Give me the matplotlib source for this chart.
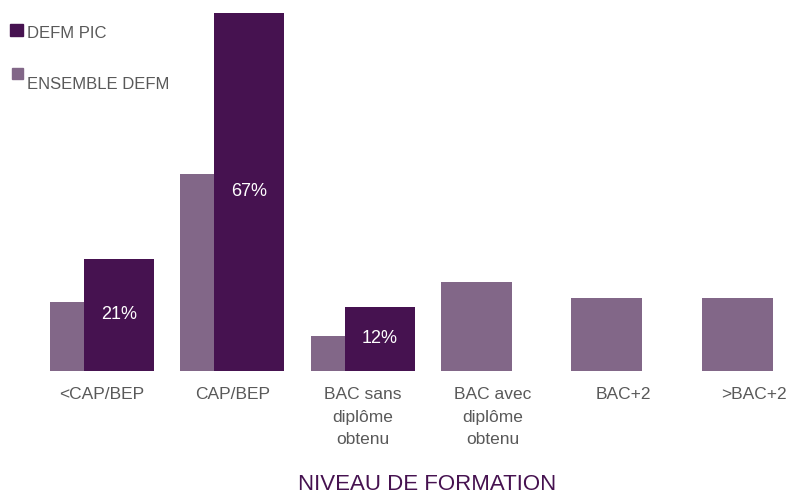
import matplotlib
matplotlib.use("Agg")
import matplotlib.pyplot as plt
from matplotlib.patches import Rectangle
import numpy as np

plt.rcParams['font.family'] = ['Liberation Sans', 'DejaVu Sans']

categories = ["<CAP/BEP", "CAP/BEP", "BAC sans\ndiplôme\nobtenu",
              "BAC avec\ndiplôme\nobtenu", "BAC+2", ">BAC+2"]
defm_pic = [21, 67, 12, 0, 0, 0]
ensemble_defm = [12.9, 36.8, 6.5, 16.6, 13.6, 13.6]
series_names = ["DEFM PIC", "ENSEMBLE DEFM"]

DARK = "#461250"
LIGHT = "#826788"
GRAY = "#595959"

W, H = 789, 495
fig = plt.figure(figsize=(W / 100, H / 100), dpi=100)

base_px = 370.7   # baseline from top
ax = fig.add_axes([0, (H - base_px) / H, 1, base_px / H])
spacing = 130.3
x0 = 102.0
ax.set_xlim(-x0 / spacing, (W - x0) / spacing)
ax.set_ylim(0, base_px / 5.34)

x = np.arange(len(categories))
ax.bar(x - 16.5 / spacing, ensemble_defm, width=71 / spacing, color=LIGHT, zorder=1)
bars = ax.bar(x + 17 / spacing, defm_pic, width=70 / spacing, color=DARK, zorder=2)
for xi, v in zip(x, defm_pic):
    if v > 0:
        ax.text(xi + 17 / spacing, v / 2, f"{v}%", color="white", ha="center",
                va="center", fontsize=13, zorder=3)

ax.set_xticks(x)
ax.set_xticklabels(categories, fontsize=12.5, color=GRAY, linespacing=1.6)
ax.tick_params(axis='x', length=0, pad=12)
ax.set_yticks([])
for s in ax.spines.values():
    s.set_visible(False)

# legend (manual)
def px_rect(x1, y1, x2, y2, color):
    fig.patches.append(Rectangle((x1 / W, 1 - y2 / H), (x2 - x1) / W, (y2 - y1) / H,
                                 transform=fig.transFigure, color=color, figure=fig))

px_rect(10, 24, 23, 36, DARK)
fig.text(27 / W, 1 - 38 / H, series_names[0], color=GRAY, fontsize=12, va="baseline", ha="left")
px_rect(12, 68, 23, 79, LIGHT)
fig.text(27 / W, 1 - 89 / H, series_names[1], color=GRAY, fontsize=12, va="baseline", ha="left")

fig.text(427 / W, 1 - 490 / H, "NIVEAU DE FORMATION", color=DARK, fontsize=16,
         ha="center", va="baseline")

fig.savefig("out.png", dpi=100)
